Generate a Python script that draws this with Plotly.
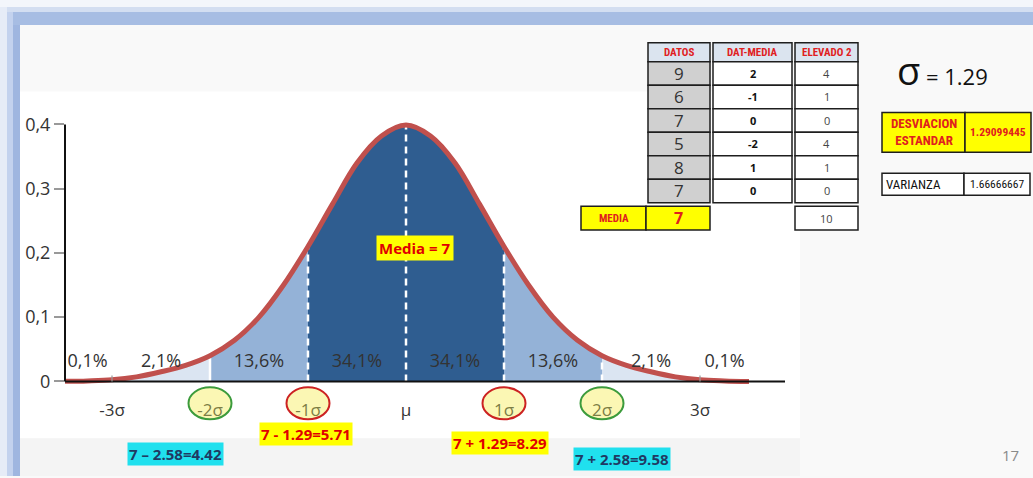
import plotly.graph_objects as go

# ---------------- data ----------------
z_grid = [-3.5, -3.25, -3.0, -2.75, -2.5, -2.25, -2.0, -1.75, -1.5, -1.25, -1.0, -0.75, -0.5, -0.25,
          0.0, 0.25, 0.5, 0.75, 1.0, 1.25, 1.5, 1.75, 2.0, 2.25, 2.5, 2.75, 3.0, 3.25, 3.5]
density = [0.0, 0.0008, 0.0025, 0.007, 0.015, 0.025, 0.040, 0.064, 0.100, 0.150, 0.210, 0.276, 0.340, 0.382,
           0.399, 0.382, 0.340, 0.276, 0.210, 0.150, 0.100, 0.064, 0.040, 0.025, 0.015, 0.007, 0.0025, 0.0008, 0.0]

y_tick_vals = [0, 0.1, 0.2, 0.3, 0.4]
y_tick_text = ["0", "0,1", "0,2", "0,3", "0,4"]
x_tick_vals = [-3, -2, -1, 0, 1, 2, 3]
x_tick_text = ["-3σ", "-2σ", "-1σ", "μ", "1σ", "2σ", "3σ"]

band_centers = [-3.25, -2.5, -1.5, -0.5, 0.5, 1.5, 2.5, 3.25]
band_labels = ["0,1%", "2,1%", "13,6%", "34,1%", "34,1%", "13,6%", "2,1%", "0,1%"]

datos = [9, 6, 7, 5, 8, 7]
dat_media = [2, -1, 0, -2, 1, 0]
elevado2 = [4, 1, 0, 4, 1, 0]
media = 7
suma_elevado = 10
desviacion = "1.29099445"
varianza = "1.66666667"
sigma = "1.29"
table_headers = ["DATOS", "DAT-MEDIA", "ELEVADO 2"]

minus1 = "7 - 1.29=5.71"
minus2 = "7 \u2013 2.58=4.42"
plus1 = "7 + 1.29=8.29"
plus2 = "7 + 2.58=9.58"

# ---------------- helpers ----------------
W, H = 1033, 478
def PX(x):
    return x / W
def PY(y):
    return 1 - y / H

X0PX, UNIT = 406.0, 98.0            # mu position and px per sigma
Y0PX, YK = 383.0, 645.0             # zero baseline and px per density unit
x_left_px, x_right_px = 65, 785
y_top_px, y_bot_px = 112, 392
xr = [(x_left_px - X0PX) / UNIT, (x_right_px - X0PX) / UNIT]
yr = [(Y0PX - y_bot_px) / YK, (Y0PX - y_top_px) / YK]

DARK = "#2f5d90"
MID = "#94b2d7"
LIGHT = "#dbe5f2"
RED_LINE = "#c0504d"

fig = go.Figure()

def seg(a, b):
    i0, i1 = z_grid.index(a), z_grid.index(b)
    return z_grid[i0:i1 + 1], density[i0:i1 + 1]

regions = [(-3.5, -2.0, LIGHT), (-2.0, -1.0, MID), (-1.0, 1.0, DARK), (1.0, 2.0, MID), (2.0, 3.5, LIGHT)]
for a, b, col in regions:
    xs, ys = seg(a, b)
    fig.add_trace(go.Scatter(x=xs, y=ys, mode="lines", fill="tozeroy", fillcolor=col,
                             line=dict(width=0, shape="spline", color=col), hoverinfo="skip"))

# dashed white boundaries
for zb in [-2.0, -1.0, 0.0, 1.0, 2.0]:
    v = density[z_grid.index(zb)]
    fig.add_trace(go.Scatter(x=[zb, zb], y=[0, v], mode="lines",
                             line=dict(color="white", width=2.5,
                                       dash="solid" if zb == -2.0 else "7px,5px"),
                             hoverinfo="skip"))

# curve
fig.add_trace(go.Scatter(x=z_grid, y=density, mode="lines",
                         line=dict(color=RED_LINE, width=5, shape="spline"), hoverinfo="skip"))

# band percentages
fig.add_trace(go.Scatter(x=band_centers, y=[0.030] * len(band_centers), mode="text", text=band_labels,
                         textfont=dict(family="Open Sans", size=18, color="#333333"),
                         cliponaxis=False, hoverinfo="skip"))

# ---------------- shapes ----------------
shapes = []
# slide frame bands
shapes.append(dict(type="rect", xref="paper", yref="paper", x0=0, x1=1, y0=PY(7), y1=1,
                   fillcolor="#f3f6fb", line=dict(width=0), layer="below"))
shapes.append(dict(type="rect", xref="paper", yref="paper", x0=0, x1=1, y0=PY(12), y1=PY(7),
                   fillcolor="#d3def1", line=dict(width=0), layer="below"))
shapes.append(dict(type="rect", xref="paper", yref="paper", x0=0, x1=1, y0=PY(25), y1=PY(12),
                   fillcolor="#a7bde3", line=dict(width=0), layer="below"))
shapes.append(dict(type="rect", xref="paper", yref="paper", x0=0, x1=PX(7), y0=0, y1=PY(7),
                   fillcolor="#e6ecf7", line=dict(width=0), layer="below"))
shapes.append(dict(type="rect", xref="paper", yref="paper", x0=PX(7), x1=PX(13), y0=0, y1=PY(12),
                   fillcolor="#c3d2ee", line=dict(width=0), layer="below"))
shapes.append(dict(type="rect", xref="paper", yref="paper", x0=PX(13), x1=PX(20), y0=0, y1=PY(25),
                   fillcolor="#9fb6e0", line=dict(width=0), layer="below"))
# chart picture background
shapes.append(dict(type="rect", xref="paper", yref="paper", x0=PX(20), x1=PX(800), y0=PY(440), y1=PY(92),
                   fillcolor="#ffffff", line=dict(width=0), layer="below"))
shapes.append(dict(type="rect", xref="paper", yref="paper", x0=PX(20), x1=PX(800), y0=0, y1=PY(440),
                   fillcolor="#f4f4f4", line=dict(width=0), layer="below"))

# circles around sigma labels
circ_w = 21.5 / UNIT
for zc, col in [(-2, "#3c9b3c"), (-1, "#cc2222"), (1, "#cc2222"), (2, "#3c9b3c")]:
    shapes.append(dict(type="circle", xref="x", yref="paper", x0=zc - circ_w, x1=zc + circ_w,
                       y0=PY(421), y1=PY(389), fillcolor="#fbf7b4",
                       line=dict(color=col, width=2), layer="below"))

# axis lines
shapes.append(dict(type="line", xref="paper", yref="y", x0=PX(65), x1=PX(65), y0=0, y1=0.4,
                   line=dict(color="#111111", width=2)))
shapes.append(dict(type="line", xref="x", yref="y", x0=xr[0], x1=xr[1], y0=0, y1=0,
                   line=dict(color="#111111", width=2)))
for zt in [-3, 3]:
    shapes.append(dict(type="line", xref="x", yref="y", x0=zt, x1=zt, y0=0, y1=0.009,
                       line=dict(color="#999999", width=1.2)))

# table cells
annotations = []
NARROW = "Liberation Sans Narrow, Roboto Condensed, Roboto, sans-serif"
def cell(x0, x1, y0, y1, fill, text, size, color, bold=False, family=NARROW, align="center"):
    shapes.append(dict(type="rect", xref="paper", yref="paper", x0=PX(x0), x1=PX(x1), y0=PY(y1), y1=PY(y0),
                       fillcolor=fill, line=dict(color="#1e1e1e", width=1.5), layer="below"))
    if text != "":
        t = f"<b>{text}</b>" if bold else text
        xa = PX((x0 + x1) / 2) if align == "center" else PX(x0 + 2)
        annotations.append(dict(xref="paper", yref="paper", x=xa, y=PY((y0 + y1) / 2),
                                text=t, showarrow=False, xanchor=align, yanchor="middle",
                                font=dict(size=size, color=color, family=family)))

cols = [(648, 710), (713, 792), (795, 858)]
for (c0, c1), h in zip(cols, table_headers):
    cell(c0, c1, 43, 62, "#dbe4ef", h, 11, "#e0201e", bold=True)
row_h = 23.6
for i in range(len(datos)):
    ya, yb = 62 + i * row_h, 62 + (i + 1) * row_h
    cell(cols[0][0], cols[0][1], ya, yb, "#d0d0d0", str(datos[i]), 17, "#333333", family="Open Sans")
    cell(cols[1][0], cols[1][1], ya, yb, "#ffffff", str(dat_media[i]), 11, "#111111", bold=True, family="Open Sans")
    cell(cols[2][0], cols[2][1], ya, yb, "#ffffff", str(elevado2[i]), 11, "#444444", family="Open Sans")
cell(581, 646, 207, 231, "#ffff00", "MEDIA", 11, "#e0201e", bold=True)
cell(646, 710, 207, 231, "#ffff00", str(media), 16, "#e0201e", bold=True, family="Open Sans")
cell(795, 858, 207, 231, "#ffffff", str(suma_elevado), 11, "#444444", family="Open Sans")

cell(882, 965, 113, 153, "#ffff00", "DESVIACION<br>ESTANDAR", 13, "#e0201e", bold=True)
cell(965, 1031, 113, 153, "#ffff00", desviacion, 11.5, "#e0201e", bold=True)
cell(882, 964, 174, 196, "#ffffff", "VARIANZA", 13, "#111111", align="left")
cell(964, 1030, 174, 196, "#ffffff", varianza, 11.5, "#111111")

# sigma text
annotations.append(dict(xref="paper", yref="paper", x=PX(895), y=PY(70), xanchor="left", yanchor="middle",
                        text="<span style='font-size:38px'>σ</span> = " + sigma,
                        showarrow=False, font=dict(size=22, color="#111111", family="Open Sans")))

# Media label
annotations.append(dict(xref="paper", yref="paper", x=PX(414.5), y=PY(249), text="<b>Media = 7</b>",
                        showarrow=False, bgcolor="#ffff00", borderpad=2, xanchor="center", yanchor="middle",
                        font=dict(size=15, color="#e00000", family="Open Sans")))

# computed interval labels
for txt, cx, cy, bg, fc in [(minus1, 306, 436, "#ffff00", "#e00000"),
                            (minus2, 175, 456, "#20e0ee", "#1f3a63"),
                            (plus1, 500, 445, "#ffff00", "#e00000"),
                            (plus2, 622, 461, "#20e0ee", "#1f3a63")]:
    annotations.append(dict(xref="paper", yref="paper", x=PX(cx), y=PY(cy), text=f"<b>{txt}</b>",
                            showarrow=False, bgcolor=bg, borderpad=1, xanchor="center", yanchor="middle",
                            font=dict(size=15, color=fc, family="Open Sans")))

# page number
annotations.append(dict(xref="paper", yref="paper", x=PX(1010), y=PY(457), text="17", showarrow=False,
                        xanchor="center", yanchor="middle", font=dict(size=15, color="#8a8a8a", family="Open Sans")))

circled = {-2, -1, 1, 2}
tick_text = [f"<span style='color:#7d7d45'>{t}</span>" if v in circled else t
             for v, t in zip(x_tick_vals, x_tick_text)]

fig.update_layout(
    width=W, height=H, margin=dict(l=0, r=0, t=0, b=0),
    paper_bgcolor="#f9f9f9", plot_bgcolor="rgba(0,0,0,0)",
    showlegend=False, hovermode=False,
    shapes=shapes, annotations=annotations,
    xaxis=dict(domain=[PX(x_left_px), PX(x_right_px)], range=xr, showgrid=False, zeroline=False,
               showline=False, tickvals=x_tick_vals, ticktext=tick_text, ticks="",
               tickfont=dict(family="Open Sans", size=17, color="#333333"), ticklabelstandoff=8,
               fixedrange=True),
    yaxis=dict(domain=[PY(y_bot_px), PY(y_top_px)], range=yr, showgrid=False, zeroline=False,
               showline=False, tickvals=y_tick_vals, ticktext=y_tick_text, ticks="outside",
               ticklen=10, tickwidth=1.5, tickcolor="#999999",
               tickfont=dict(family="Open Sans", size=18, color="#333333"), fixedrange=True),
)

fig.write_html("out.html", config={"displayModeBar": False},
               post_script="document.body.style.margin='0';document.body.style.overflow='hidden';")
